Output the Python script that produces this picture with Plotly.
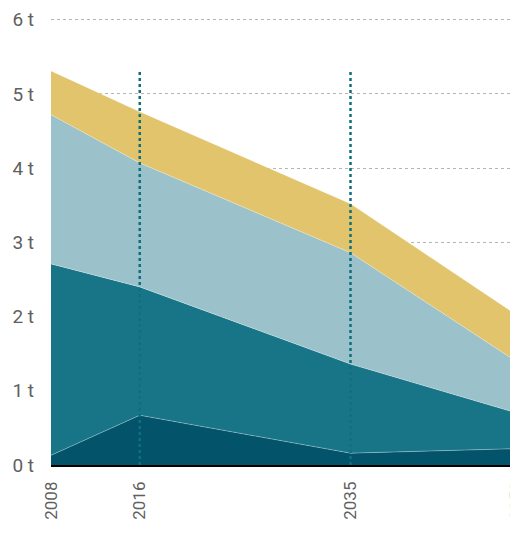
import plotly.graph_objects as go

years = [2008, 2016, 2035, 2050]
dark = [0.13, 0.67, 0.16, 0.22]
teal = [2.58, 1.73, 1.20, 0.48]
light = [2.01, 1.67, 1.50, 0.69]
yellow = [0.59, 0.69, 0.66, 0.63]
series = [("dark", dark, "#03536a"), ("teal", teal, "#187588"),
          ("light", light, "#9bc1ca"), ("yellow", yellow, "#e2c46d")]
marker_years = [2016, 2035]
y_ticks = [0, 1, 2, 3, 4, 5, 6]
y_labels = [f"{v} t" for v in y_ticks]

fig = go.Figure()
for name, vals, col in series:
    fig.add_trace(go.Scatter(x=years, y=vals, stackgroup="one", mode="lines",
                             line=dict(width=0.6, color="rgba(255,255,255,0.5)"),
                             fillcolor=col, name=name, hoverinfo="skip"))

for yr in marker_years:
    fig.add_shape(type="line", x0=yr, x1=yr, y0=-0.08, y1=5.3, xref="x", yref="y",
                  line=dict(color="#0f6f7f", width=2.5, dash="dot"), layer="above")

# small tick at the start of the x axis
fig.add_shape(type="line", x0=years[0], x1=years[0], y0=0, y1=-0.07, xref="x", yref="y",
              line=dict(color="black", width=1.5), layer="above")

fig.update_layout(
    width=510, height=530, showlegend=False,
    margin=dict(l=43, r=0, t=8, b=73),
    plot_bgcolor="white", paper_bgcolor="white",
    font=dict(family="Roboto, sans-serif", size=17, color="#606060"),
    xaxis=dict(range=[2008, 2050.1], tickmode="array", tickvals=years,
               ticktext=[str(y) for y in years], tickangle=-90,
               tickfont=dict(size=17), ticklabeloverflow="allow",
               showgrid=False, showline=True, linecolor="black", linewidth=1.5,
               ticks="", zeroline=False, automargin=False, ticklabelstandoff=8),
    yaxis=dict(range=[0, 6.05], tickmode="array", tickvals=y_ticks, ticktext=y_labels,
               tickfont=dict(size=19),
               showgrid=True, gridcolor="#b5b5b5", griddash="dot", gridwidth=1,
               zeroline=False, showline=False, ticks="", ticklabelstandoff=16,
               automargin=False),
)
fig.write_html("out.html")
